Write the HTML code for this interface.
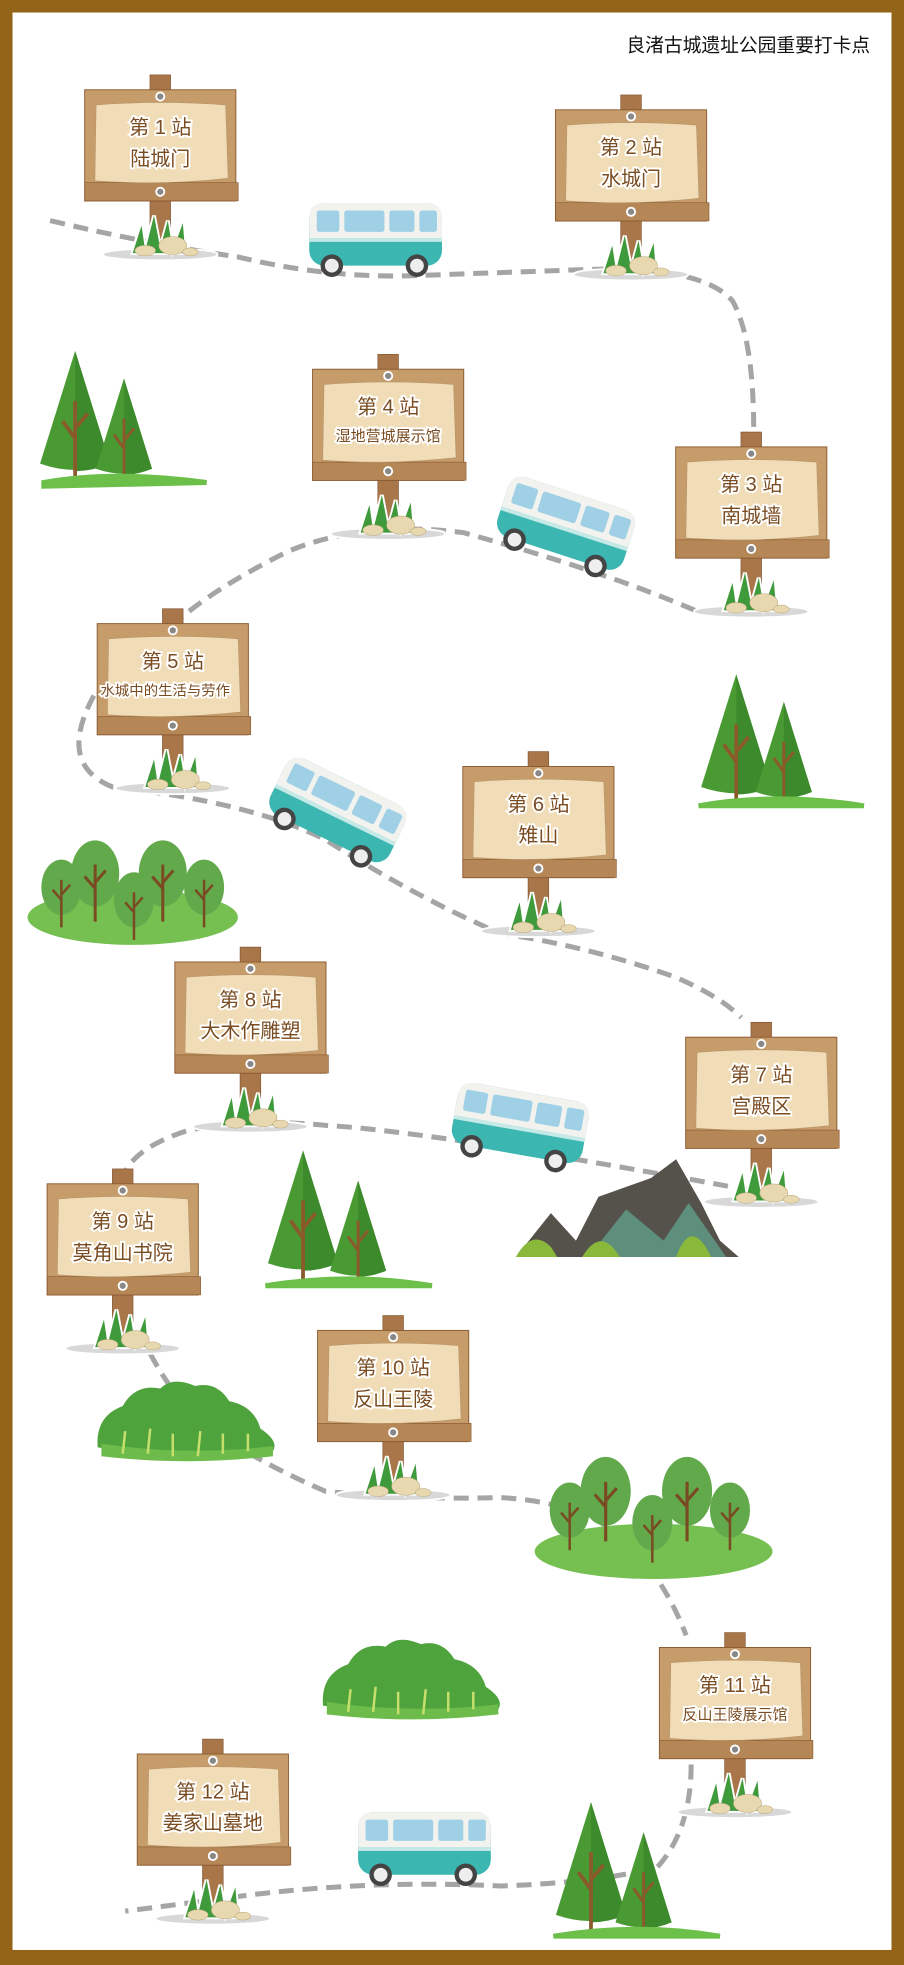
<!DOCTYPE html>
<html><head><meta charset="utf-8"><style>
html,body{margin:0;padding:0;background:#fff}
svg{display:block}
text{font-family:"Liberation Sans","Noto Sans CJK SC",sans-serif}
</style></head><body>
<svg width="904" height="1965" viewBox="0 0 722 1568" preserveAspectRatio="none" xmlns="http://www.w3.org/2000/svg">
<defs>
<g id="sign">
 <ellipse cx="60" cy="131" rx="45" ry="4" fill="#d8d8d8"/>
 <rect x="52" y="-12" width="16" height="140" fill="#a9764a" stroke="#7d5230" stroke-width="1"/>
 <rect x="0" y="0" width="120" height="88" fill="#c79c6b" stroke="#8a5a30" stroke-width="1.5"/>
 <rect x="0" y="74" width="122" height="14" fill="#b58656" stroke="#8a5a30" stroke-width="1"/>
 <path d="M9 12 Q60 8 112 12 L114 70 Q60 76 8 72 Z" fill="#f0dcb6" stroke="#b8956a" stroke-width="1"/>
 <circle cx="60" cy="5" r="2.5" fill="#888"/><circle cx="60" cy="81" r="2.5" fill="#888"/>
 <path d="M38 130 L45 108 L48 128 L55 100 L60 126 L66 104 L70 128 L78 106 L80 130 Z" fill="#3e9a3a"/>
 <ellipse cx="48" cy="128" rx="8" ry="4" fill="#e8d8b0" stroke="#b9a57a" stroke-width=".8"/>
 <ellipse cx="70" cy="124" rx="11" ry="7" fill="#e8d8b0" stroke="#b9a57a" stroke-width=".8"/>
 <ellipse cx="84" cy="129" rx="6" ry="3" fill="#e8d8b0" stroke="#b9a57a" stroke-width=".8"/>
</g>
<g id="bus">
 <rect x="2" y="2" width="106" height="50" rx="12" fill="#3bb6b0"/>
 <path d="M2 30 L2 14 Q2 2 14 2 L96 2 Q108 2 108 14 L108 30 Z" fill="#f2f2ee"/>
 <rect x="8" y="8" width="18" height="17" rx="2" fill="#9fd0e6"/>
 <rect x="30" y="8" width="32" height="17" rx="2" fill="#9fd0e6"/>
 <rect x="66" y="8" width="20" height="17" rx="2" fill="#9fd0e6"/>
 <rect x="90" y="8" width="14" height="17" rx="2" fill="#9fd0e6"/>
 <rect x="2" y="30" width="106" height="3" fill="#fff" opacity=".7"/>
 <circle cx="20" cy="52" r="9" fill="#444"/><circle cx="20" cy="52" r="5.5" fill="#eee"/>
 <circle cx="88" cy="52" r="9" fill="#444"/><circle cx="88" cy="52" r="5.5" fill="#eee"/>
</g>
<g id="pine">
 <path d="M30 0 L58 90 Q30 100 2 90 Z" fill="#4a9a34"/>
 <path d="M30 0 L58 90 Q44 96 30 96 Z" fill="#3d8a2c"/>
 <path d="M30 40 L30 104 M30 70 L20 56 M30 62 L40 50" stroke="#8b5a2b" stroke-width="3" fill="none"/>
</g>
<g id="round">
 <ellipse cx="15" cy="20" rx="16" ry="22" fill="#62a94c"/>
 <path d="M15 14 L15 52 M15 30 L8 22 M15 26 L22 18" stroke="#7a4a22" stroke-width="2" fill="none"/>
</g>
<g id="bush">
 <path d="M0 55 Q-2 30 20 22 Q30 4 50 8 Q60 -2 78 6 Q95 2 105 18 Q125 22 130 40 Q145 50 140 58 Q70 66 0 55 Z" fill="#4ea33c"/>
 <path d="M3 52 Q70 62 140 54 L140 62 Q70 70 3 62 Z" fill="#6dbb4a"/>
 <path d="M20 60 L22 42 M40 60 L42 40 M60 62 L60 44 M80 62 L82 42 M100 60 L100 44 M120 58 L120 44" stroke="#c6df6c" stroke-width="2"/>
</g>
</defs>

<rect x="0" y="0" width="722" height="1568" fill="#946418"/>
<rect x="10" y="10" width="702" height="1546" fill="#fff"/>

<text x="695" y="41" font-size="15" text-anchor="end" fill="#111">良渚古城遗址公园重要打卡点</text>

<g fill="none" stroke="#a5a5a5" stroke-width="4" stroke-dasharray="12 7">
 <path d="M40 176 Q120 195 190 205 Q260 222 330 220 L470 215 Q560 212 585 240 Q602 270 602 345"/>
 <path d="M555 487 Q480 455 370 425 Q290 415 230 440 Q170 470 140 497"/>
 <path d="M75 555 Q45 610 90 628 Q200 640 260 670 Q330 715 400 745 Q470 755 540 780 Q575 795 592 812"/>
 <path d="M600 950 Q520 935 400 915 Q300 900 260 898 Q200 892 150 902 Q110 915 100 935"/>
 <path d="M120 1080 Q130 1100 150 1125 Q190 1160 260 1190 Q330 1197 400 1195 Q450 1198 480 1215 Q525 1245 548 1305"/>
 <path d="M552 1408 Q552 1460 525 1490 Q480 1502 400 1505 Q300 1500 200 1512 Q140 1520 100 1525"/>
</g>

<g transform="translate(30,280)"><use href="#pine"/></g>
<g transform="translate(75,302) scale(.8)"><use href="#pine"/></g>
<path d="M35 385 Q90 375 165 385 L35 388Z" fill="#6cc04a" stroke="#6cc04a" stroke-width="4"/>
<g transform="translate(558,538)"><use href="#pine"/></g>
<g transform="translate(602,560) scale(.8)"><use href="#pine"/></g>
<path d="M558 643 Q620 632 690 643 Z" fill="#6cc04a" stroke="#6cc04a" stroke-width="4"/>
<g transform="translate(212,918)"><use href="#pine"/></g>
<g transform="translate(262,942) scale(.8)"><use href="#pine"/></g>
<path d="M212 1026 Q280 1015 345 1026 Z" fill="#6cc04a" stroke="#6cc04a" stroke-width="4"/>
<g transform="translate(442,1438)"><use href="#pine"/></g>
<g transform="translate(490,1462) scale(.8)"><use href="#pine"/></g>
<path d="M442 1545 Q510 1534 575 1545 Z" fill="#6cc04a" stroke="#6cc04a" stroke-width="4"/>

<ellipse cx="106" cy="732" rx="84" ry="22" fill="#76c052"/>
<g transform="translate(34,688)"><use href="#round"/></g>
<g transform="translate(58,673) scale(1.2)"><use href="#round"/></g>
<g transform="translate(92,698)"><use href="#round"/></g>
<g transform="translate(112,673) scale(1.2)"><use href="#round"/></g>
<g transform="translate(148,688)"><use href="#round"/></g>
<ellipse cx="522" cy="1238" rx="95" ry="22" fill="#76c052"/>
<g transform="translate(440,1185)"><use href="#round"/></g>
<g transform="translate(465,1165) scale(1.25)"><use href="#round"/></g>
<g transform="translate(506,1195)"><use href="#round"/></g>
<g transform="translate(530,1165) scale(1.25)"><use href="#round"/></g>
<g transform="translate(568,1185)"><use href="#round"/></g>

<g transform="translate(78,1100)"><use href="#bush"/></g>
<g transform="translate(258,1306)"><use href="#bush"/></g>

<path d="M412 1003 L440 968 L460 990 L478 955 L520 940 L540 925 L560 960 L575 990 L590 1003 Z" fill="#55524c"/>
<path d="M470 1003 L500 965 L530 990 L550 960 L580 1003 Z" fill="#5e8e7c"/>
<path d="M412 1003 Q425 980 440 995 L445 1003Z M465 1003 Q480 978 495 1003Z M540 1003 Q552 970 568 1003Z" fill="#8ab83a"/>

<g transform="translate(245,160)"><use href="#bus"/></g>
<g transform="translate(408,375) rotate(18)"><use href="#bus"/></g>
<g transform="translate(232,598) rotate(26)"><use href="#bus"/></g>
<g transform="translate(366,860) rotate(10)"><use href="#bus"/></g>
<g transform="translate(284,1444)"><use href="#bus"/></g>

<g font-size="16" fill="#7a4c22" stroke="#fff" stroke-width="3" paint-order="stroke" text-anchor="middle">
<g transform="translate(68,72)"><use href="#sign"/><text x="60" y="35">第 1 站</text><text x="60" y="60">陆城门</text></g>
<g transform="translate(444,88)"><use href="#sign"/><text x="60" y="35">第 2 站</text><text x="60" y="60">水城门</text></g>
<g transform="translate(540,357)"><use href="#sign"/><text x="60" y="35">第 3 站</text><text x="60" y="60">南城墙</text></g>
<g transform="translate(250,295)"><use href="#sign"/><text x="60" y="35">第 4 站</text><text x="60" y="57" font-size="12">湿地营城展示馆</text></g>
<g transform="translate(78,498)"><use href="#sign"/><text x="60" y="35">第 5 站</text><text x="54" y="57" font-size="11.5">水城中的生活与劳作</text></g>
<g transform="translate(370,612)"><use href="#sign"/><text x="60" y="35">第 6 站</text><text x="60" y="60">雉山</text></g>
<g transform="translate(548,828)"><use href="#sign"/><text x="60" y="35">第 7 站</text><text x="60" y="60">宫殿区</text></g>
<g transform="translate(140,768)"><use href="#sign"/><text x="60" y="35">第 8 站</text><text x="60" y="60">大木作雕塑</text></g>
<g transform="translate(38,945)"><use href="#sign"/><text x="60" y="35">第 9 站</text><text x="60" y="60">莫角山书院</text></g>
<g transform="translate(254,1062)"><use href="#sign"/><text x="60" y="35">第 10 站</text><text x="60" y="60">反山王陵</text></g>
<g transform="translate(527,1315)"><use href="#sign"/><text x="60" y="35">第 11 站</text><text x="60" y="57" font-size="12">反山王陵展示馆</text></g>
<g transform="translate(110,1400)"><use href="#sign"/><text x="60" y="35">第 12 站</text><text x="60" y="60">姜家山墓地</text></g>
</g>
</svg>
</body></html>
